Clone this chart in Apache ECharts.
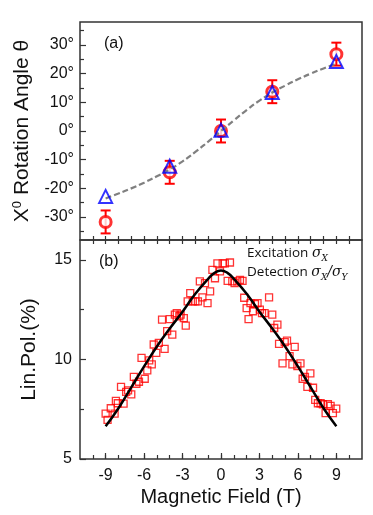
<!DOCTYPE html>
<html>
<head>
<meta charset="utf-8">
<script src="https://cdn.jsdelivr.net/npm/echarts@6/dist/echarts.min.js"></script>
<style>
	html, body { margin: 0; padding: 0; background: #fff; }
	#chart { width: 373px; height: 515px; }
</style>
</head>
<body>
<div id="chart"></div>
<script>
// panel (a): rotation angle vs field
var fieldA = [-9, -4, 0, 4, 9];
var angleCircle = [-31.7, -14.4, 0, 13.7, 26.8];
var angleErr = [4, 4, 4, 4, 4];
var angleTri = [-22.8, -12.3, 0.3, 13.4, 24.2];
var fitFieldA = [-9, -8, -7, -6, -5, -4, -3, -2, -1, 0, 1, 2, 3, 4, 5, 6, 7, 8, 9];
var fitAngle = [-23.5, -21.8, -20.0, -18.0, -15.8, -13.4, -10.6, -7.3, -3.7, 0, 3.7, 7.3, 10.6, 13.4, 15.8, 18.0, 20.0, 21.8, 23.5];

// panel (b): linear polarisation vs field
var fieldB = [-9.0, -8.85, -8.6, -8.3, -8.2, -8.05, -7.8, -7.6, -7.4, -7.25, -7.0, -6.8, -6.6, -6.4, -6.2, -5.95, -5.75, -5.6, -5.4, -5.25,
	-5.05, -4.85, -4.6, -4.4, -4.2, -4.0, -3.8, -3.6, -3.45, -3.25, -3.15, -2.9, -2.75, -2.6, -2.4, -2.2, -2.0, -1.8, -1.65, -1.45,
	-1.25, -1.05, -0.85, -0.67, -0.47, -0.28, -0.08, 0.13, 0.3, 0.52, 0.7, 0.88, 1.06, 1.27, 1.48, 1.68, 1.81, 2.0, 2.15, 2.3,
	2.5, 2.65, 2.85, 3.03, 3.2, 3.4, 3.75, 4.0, 4.15, 4.4, 4.53, 4.8, 4.97, 5.15, 5.35, 5.57, 5.75, 5.96, 6.2, 6.37,
	6.55, 6.74, 6.97, 7.18, 7.35, 7.56, 7.77, 7.95, 8.16, 8.34, 8.55, 8.73, 8.99];
var linPol = [7.28, 6.97, 7.55, 7.28, 7.92, 7.8, 8.62, 7.78, 8.37, 8.45, 8.25, 9.12, 8.78, 8.88, 10.08, 9.03, 9.45, 9.95, 9.75, 10.75,
	10.33, 10.83, 12.0, 10.53, 11.42, 12.03, 11.25, 12.25, 12.33, 12.17, 12.25, 12.08, 11.7, 12.92, 13.33, 12.92, 12.92, 12.92, 13.92, 13.12,
	13.83, 12.83, 13.42, 14.5, 14.08, 14.83, 14.42, 14.83, 14.83, 13.95, 14.87, 13.92, 13.83, 13.92, 14.0, 13.95, 13.1, 12.58, 12.03, 12.83,
	12.42, 12.78, 12.83, 12.5, 12.33, 12.33, 13.12, 12.25, 11.58, 11.75, 10.78, 9.8, 10.87, 10.95, 10.17, 9.75, 10.63, 9.67, 9.8, 9.03,
	9.13, 8.62, 9.3, 8.58, 7.97, 7.8, 7.8, 7.75, 7.3, 7.75, 7.67, 7.3, 7.53];
var fitFieldB = [-9, -8, -7, -6, -5, -4, -3, -2, -1, -0.5, 0, 0.5, 1, 2, 3, 4, 5, 6, 7, 8, 9];
var fitPol = [6.65, 7.55, 8.6, 9.65, 10.65, 11.55, 12.4, 13.3, 14.05, 14.35, 14.47, 14.35, 14.05, 13.3, 12.4, 11.55, 10.65, 9.65, 8.6, 7.55, 6.65];

// tick positions
var fieldMajor = [-9, -6, -3, 0, 3, 6, 9];
var fieldMinor = [-10, -9, -8, -7, -6, -5, -4, -3, -2, -1, 0, 1, 2, 3, 4, 5, 6, 7, 8, 9, 10];
var angleMajor = [-30, -20, -10, 0, 10, 20, 30];
var angleMinor = [-35, -25, -15, -5, 5, 15, 25, 35];
var polMajor = [5, 10, 15];
var polMinor = [7.5, 12.5];

var axisColor = '#333';
var font = 'Liberation Sans, Arial, sans-serif';

function zip(xs, ys) {
	var out = [];
	for (var i = 0; i < xs.length; i++) {
		out.push([xs[i], ys[i]]);
	}
	return out;
}

var errData = [];
for (var i = 0; i < fieldA.length; i++) {
	errData.push([fieldA[i], angleCircle[i] - angleErr[i], angleCircle[i] + angleErr[i]]);
}

var myChart = echarts.init(document.getElementById('chart'), null, { renderer: 'canvas' });

// axis that only draws ticks (the frame comes from the grid border)
var tickAxis = function(grid, pos, vals, len, inside, extra) {
	var ax = {
		gridIndex: grid,
		type: 'value',
		position: pos,
		axisLine: { show: false, onZero: false },
		splitLine: { show: false },
		axisLabel: { show: false },
		axisTick: { show: true, inside: inside, length: len, customValues: vals, lineStyle: { color: axisColor, width: 1.2 } }
	};
	for (var k in extra) ax[k] = extra[k];
	return ax;
};

var option = {
	backgroundColor: '#fff',
	animation: false,
	grid: [
		{ left: 80, top: 22, width: 282, height: 218, show: true, borderColor: axisColor, borderWidth: 1.5 },
		{ left: 80, top: 240, width: 282, height: 219, show: true, borderColor: axisColor, borderWidth: 1.5 }
	],
	xAxis: [
		// shared line between the panels
		tickAxis(0, 'bottom', fieldMinor, 8, false, { min: -11, max: 11, offset: -4 }),
		tickAxis(1, 'bottom', fieldMajor, 6, true, {
			min: -11, max: 11,
			axisLabel: { show: true, customValues: fieldMajor, fontSize: 16, color: '#111', fontFamily: font, margin: 9 },
			name: 'Magnetic Field (T)', nameLocation: 'middle', nameGap: 28,
			nameTextStyle: { fontSize: 20, color: '#111', fontFamily: font }
		}),
		tickAxis(1, 'bottom', fieldMinor, 4, true, { min: -11, max: 11 })
	],
	yAxis: [
		tickAxis(0, 'left', angleMajor, 6, true, {
			min: -38, max: 38,
			axisLabel: {
				show: true, customValues: angleMajor, fontSize: 16, color: '#111', fontFamily: font, margin: 6,
				formatter: function(v) { return v + '°'; }
			},
			name: 'X{sup|0} Rotation Angle θ', nameLocation: 'middle', nameGap: 46, nameRotate: 90,
			nameTextStyle: {
				fontSize: 21, color: '#111', fontFamily: font,
				rich: { sup: { fontSize: 13, color: '#111', fontFamily: font, verticalAlign: 'top', padding: [0, 0, 10, 0] } }
			}
		}),
		tickAxis(0, 'left', angleMinor, 4, true, { min: -38, max: 38 }),
		tickAxis(1, 'left', polMajor, 6, true, {
			min: 5, max: 16,
			axisLabel: { show: true, customValues: polMajor, fontSize: 16, color: '#111', fontFamily: font, margin: 8 },
			name: 'Lin.Pol.(%)', nameLocation: 'middle', nameGap: 40, nameRotate: 90,
			nameTextStyle: { fontSize: 21, color: '#111', fontFamily: font }
		}),
		tickAxis(1, 'left', polMinor, 4, true, { min: 5, max: 16 })
	],
	series: [
		{
			type: 'custom',
			xAxisIndex: 0, yAxisIndex: 0,
			data: errData,
			z: 2,
			renderItem: function(params, api) {
				var lo = api.coord([api.value(0), api.value(1)]);
				var hi = api.coord([api.value(0), api.value(2)]);
				var w = 5;
				var st = { stroke: '#f00', lineWidth: 2 };
				return {
					type: 'group',
					children: [
						{ type: 'line', shape: { x1: lo[0], y1: lo[1], x2: hi[0], y2: hi[1] }, style: st },
						{ type: 'line', shape: { x1: lo[0] - w, y1: lo[1], x2: lo[0] + w, y2: lo[1] }, style: st },
						{ type: 'line', shape: { x1: hi[0] - w, y1: hi[1], x2: hi[0] + w, y2: hi[1] }, style: st }
					]
				};
			}
		},
		{
			type: 'scatter',
			xAxisIndex: 0, yAxisIndex: 0,
			data: zip(fieldA, angleCircle),
			symbol: 'circle',
			symbolSize: 11,
			itemStyle: { color: '#fff', borderColor: '#f00', borderWidth: 3 },
			z: 3
		},
		{
			type: 'line',
			xAxisIndex: 0, yAxisIndex: 0,
			data: zip(fitFieldA, fitAngle),
			smooth: true,
			showSymbol: false,
			lineStyle: { color: '#808080', width: 2.2, type: [6, 3] },
			z: 4
		},
		{
			type: 'scatter',
			xAxisIndex: 0, yAxisIndex: 0,
			data: zip(fieldA, angleTri),
			symbol: 'triangle',
			symbolSize: 13,
			itemStyle: { color: 'rgba(255,255,255,0)', borderColor: '#00f', borderWidth: 2 },
			z: 5
		},
		{
			type: 'scatter',
			xAxisIndex: 1, yAxisIndex: 2,
			data: zip(fieldB, linPol),
			symbol: 'rect',
			symbolSize: 7,
			itemStyle: { color: 'rgba(255,255,255,0)', borderColor: '#f00', borderWidth: 1.3 },
			z: 3
		},
		{
			type: 'line',
			xAxisIndex: 1, yAxisIndex: 2,
			data: zip(fitFieldB, fitPol),
			smooth: true,
			showSymbol: false,
			lineStyle: { color: '#000', width: 2.5 },
			z: 4
		}
	],
	graphic: [
		{ type: 'text', left: 104, top: 36, style: { text: '(a)', fontSize: 16, fill: '#111', fontFamily: font } },
		{ type: 'text', left: 99, top: 254, style: { text: '(b)', fontSize: 16, fill: '#111', fontFamily: font } },
		{
			type: 'text', left: 247, top: 244,
			style: {
				text: 'Excitation {s|σ}{sub|X}\nDetection {s|σ}{sub|X}{s|/σ}{sub|Y}',
				fontSize: 13.5, lineHeight: 19, fill: '#111', fontFamily: 'Open Sans, sans-serif',
				rich: {
					s: { fontSize: 14, fontStyle: 'italic', fontFamily: 'DejaVu Serif, serif', fill: '#111' },
					sub: { fontSize: 9, fontStyle: 'italic', fontFamily: 'DejaVu Serif, serif', fill: '#111', verticalAlign: 'bottom', padding: [6, 0, 0, 0] }
				}
			}
		}
	]
};

myChart.setOption(option);
</script>
</body>
</html>
